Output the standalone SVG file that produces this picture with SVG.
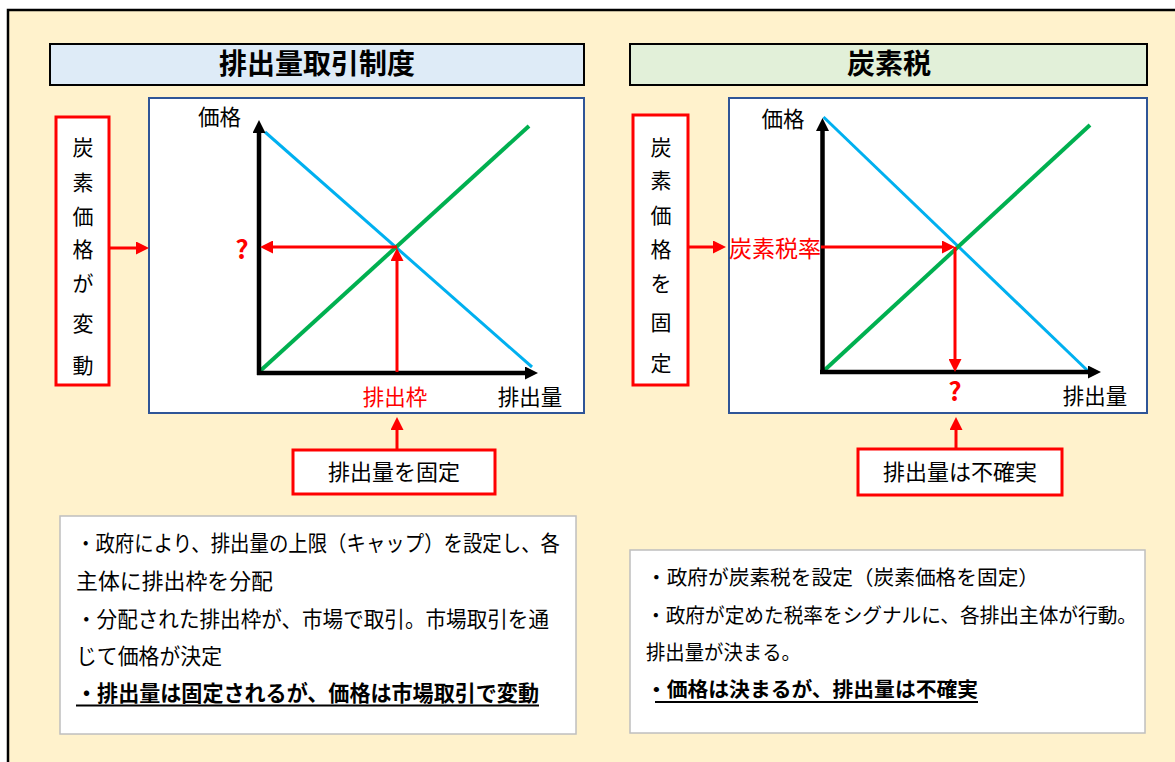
<svg xmlns="http://www.w3.org/2000/svg" width="1175" height="762" viewBox="0 0 1175 762">
<defs>
<style>
text{font-family:"Noto Sans CJK JP","Noto Sans",sans-serif;fill:#000}
.title{font-size:28px;font-weight:bold;text-anchor:middle}
.lbl{font-size:21.5px;text-anchor:middle}
.red{fill:#FF0000}
.vt{font-size:21px;text-anchor:middle}
.bt{font-size:21.5px}
.bt2{font-size:20px}
.b{font-weight:bold}
.q{font-size:26px;font-weight:bold;text-anchor:middle;fill:#FF0000}
.chart{fill:#FFFFFF;stroke:#2F5597;stroke-width:2}
.rbox{fill:#FFFFFF;stroke:#FF0000;stroke-width:3}
.tbox{fill:#FFFFFF;stroke:#BFBFBF;stroke-width:1.5}
.axis{stroke:#000;stroke-width:4.5;fill:none;marker-end:url(#ah)}
.ra{stroke:#FF0000;stroke-width:3;fill:none;marker-end:url(#rh)}
.blue{stroke:#00B0F0;stroke-width:3}
.green{stroke:#00B050;stroke-width:4}
</style>
<marker id="rh" markerUnits="userSpaceOnUse" markerWidth="13" markerHeight="13" refX="2" refY="6.5" orient="auto" viewBox="0 0 13 13">
<path d="M0,0 L13,6.5 L0,13 z" fill="#FF0000"/>
</marker>
<marker id="ah" markerUnits="userSpaceOnUse" markerWidth="13" markerHeight="13" refX="2" refY="6.5" orient="auto" viewBox="0 0 13 13">
<path d="M0,0 L13,6.5 L0,13 z" fill="#000"/>
</marker>
</defs>
<rect x="8" y="10" width="1185" height="770" fill="#FFF2CC" stroke="#000" stroke-width="2.5"/>

<g id="title-ets">
<rect x="50" y="44" width="534" height="41" fill="#DEEBF7" stroke="#000" stroke-width="2"/>
<text class="title" x="317" y="74">排出量取引制度</text>
</g>
<g id="title-tax">
<rect x="630" y="44" width="517" height="41" fill="#E2F0D9" stroke="#000" stroke-width="2"/>
<text class="title" x="889" y="74">炭素税</text>
</g>

<g id="chart-ets">
<rect class="chart" x="149" y="98" width="435" height="315"/>
<line class="blue" x1="265" y1="132" x2="532" y2="367"/>
<line class="green" x1="259" y1="372" x2="529" y2="126"/>
<text class="lbl" x="219.5" y="125">価格</text>
<text class="lbl" x="530" y="405">排出量</text>
<text class="lbl red" x="395" y="405">排出枠</text>
<text class="q" x="242" y="259">?</text>
</g>

<g id="chart-tax">
<rect class="chart" x="729" y="98" width="418" height="315"/>
<line class="blue" x1="823.5" y1="117" x2="1089" y2="372"/>
<line class="green" x1="822.5" y1="372" x2="1090" y2="125"/>
<text class="lbl" x="783" y="127">価格</text>
<text class="lbl" x="1095" y="404">排出量</text>
<text class="lbl red" x="775" y="257" style="font-size:23px">炭素税率</text>
<text class="q" x="955" y="401">?</text>
</g>

<g id="vbox-ets">
<rect class="rbox" x="56" y="117" width="53" height="268"/>
<text class="vt" x="83" y="155">炭</text>
<text class="vt" x="83" y="190">素</text>
<text class="vt" x="83" y="224">価</text>
<text class="vt" x="83" y="257">格</text>
<text class="vt" x="83" y="291">が</text>
<text class="vt" x="83" y="331">変</text>
<text class="vt" x="83" y="373">動</text>
</g>

<g id="vbox-tax">
<rect class="rbox" x="633" y="115" width="55" height="270"/>
<text class="vt" x="661" y="155">炭</text>
<text class="vt" x="661" y="188">素</text>
<text class="vt" x="661" y="223">価</text>
<text class="vt" x="661" y="257">格</text>
<text class="vt" x="661" y="291">を</text>
<text class="vt" x="661" y="330">固</text>
<text class="vt" x="661" y="371">定</text>
</g>

<g id="box-fixed">
<rect class="rbox" x="293" y="450" width="202" height="44"/>
<text class="lbl" x="394" y="480" style="font-size:22px">排出量を固定</text>
</g>
<g id="box-uncertain">
<rect class="rbox" x="858" y="449" width="204" height="46"/>
<text class="lbl" x="960" y="480" style="font-size:22px">排出量は不確実</text>
</g>

<g id="note-ets">
<rect class="tbox" x="60" y="516" width="516" height="218"/>
<text class="bt" x="76" y="551" textLength="484" lengthAdjust="spacingAndGlyphs">・政府により、排出量の上限（キャップ）を設定し、各</text>
<text class="bt" x="76" y="589" textLength="197" lengthAdjust="spacingAndGlyphs">主体に排出枠を分配</text>
<text class="bt" x="76" y="627" textLength="473" lengthAdjust="spacingAndGlyphs">・分配された排出枠が、市場で取引。市場取引を通</text>
<text class="bt" x="76" y="664" textLength="146" lengthAdjust="spacingAndGlyphs">じて価格が決定</text>
<text class="bt b" x="76" y="701" textLength="463" lengthAdjust="spacingAndGlyphs">・排出量は固定されるが、価格は市場取引で変動</text>
<line x1="76" y1="705.5" x2="539" y2="705.5" stroke="#000" stroke-width="2"/>
</g>

<g id="note-tax">
<rect class="tbox" x="630" y="550" width="515" height="183"/>
<text class="bt2" x="646" y="585" textLength="393" lengthAdjust="spacingAndGlyphs">・政府が炭素税を設定（炭素価格を固定）</text>
<text class="bt2" x="646" y="623" textLength="491" lengthAdjust="spacingAndGlyphs">・政府が定めた税率をシグナルに、各排出主体が行動。</text>
<text class="bt2" x="646" y="660" textLength="155" lengthAdjust="spacingAndGlyphs">排出量が決まる。</text>
<text class="bt2 b" x="646" y="697" textLength="332" lengthAdjust="spacingAndGlyphs">・価格は決まるが、排出量は不確実</text>
<line x1="655" y1="702" x2="978" y2="702" stroke="#000" stroke-width="2"/>
</g>

<g id="connectors">
<line class="axis" x1="259" y1="375" x2="259" y2="131"/>
<line class="axis" x1="257" y1="373" x2="527" y2="373"/>
<line class="axis" x1="822.5" y1="374" x2="822.5" y2="129"/>
<line class="axis" x1="820" y1="372" x2="1090" y2="372"/>
<line class="ra" x1="397" y1="247" x2="271" y2="247"/>
<line class="ra" x1="397" y1="372" x2="397" y2="259"/>
<line class="ra" x1="821" y1="247" x2="944" y2="247"/>
<line class="ra" x1="955" y1="247" x2="955" y2="361"/>
<line class="ra" x1="110" y1="248" x2="138" y2="248"/>
<line class="ra" x1="688" y1="247" x2="715" y2="247"/>
<line class="ra" x1="397" y1="450" x2="397" y2="428"/>
<line class="ra" x1="956" y1="449" x2="956" y2="428"/>
</g>
</svg>
